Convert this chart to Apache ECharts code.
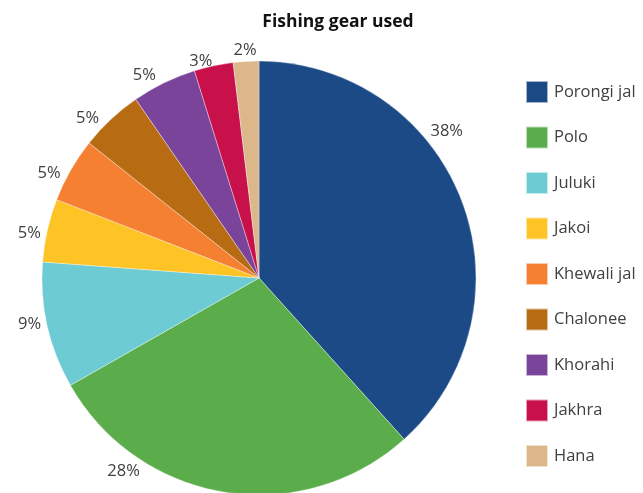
<!DOCTYPE html>
<html><head><meta charset="utf-8">
<script src="https://cdn.jsdelivr.net/npm/echarts@6/dist/echarts.min.js"></script>
<style>html,body{margin:0;padding:0;background:#fff}#c{width:643px;height:493px}</style>
</head><body><div id="c"></div>
<script>
const categories = ['Porongi jal','Polo','Juluki','Jakoi','Khewali jal','Chalonee','Khorahi','Jakhra','Hana'];
const values = [38.3, 28.4, 9.4, 4.7, 4.8, 4.7, 4.8, 2.9, 1.9];
const colors = ['#1c4a87','#5aad4a','#6ccbd3','#fec325','#f58032','#b76c14','#7a449b','#c8104a','#dbb78a'];
const title = 'Fishing gear used';

// label placement (style only): angle (deg, clockwise from top) and gap of each label
const CX = 259, CY = 278, R = 217;
const labelAngles = [52, 215, 258.5, 281, 296.5, 313, 330.5, 345, 356.5];
const labelGaps = [4.5, 4.5, 4.5, 4.5, 4.5, 4.5, 4.5, -1.5, 4.5];

const chart = echarts.init(document.getElementById('c'));
chart.setOption({
  animation: false,
  title: {text: title, left: 333, top: 8, textAlign: 'center',
    textStyle: {fontFamily: 'Open Sans', fontWeight: 'bold', fontSize: 17.5, color: '#111'}},
  legend: {
    orient: 'vertical', left: 525, top: 80, padding: 0, itemWidth: 22, itemHeight: 22, itemGap: 21.5,
    icon: 'rect',
    textStyle: {fontFamily: 'Open Sans', fontSize: 16.5, lineHeight: 22, color: '#404040', padding: [0,0,0,1]},
    data: categories
  },
  series: [{
    type: 'pie',
    center: [CX, CY],
    radius: R,
    startAngle: 90,
    clockwise: true,
    avoidLabelOverlap: false,
    data: categories.map((n,i)=>({name:n, value:values[i], itemStyle:{color:colors[i]}})),
    itemStyle: {borderColor: 'rgba(255,255,255,0.6)', borderWidth: 0.6},
    label: {show: true, position: 'outside',
      formatter: p => Math.round(p.value) + '%',
      fontFamily: 'Open Sans', fontSize: 16.5, color: '#404040'},
    labelLine: {show: false, length: 8, length2: 0},
    labelLayout: function (p) {
      const i = p.dataIndex;
      const a = labelAngles[i] * Math.PI/180;
      const w = p.labelRect.width, h = p.labelRect.height * 0.75;
      const s = Math.sin(a), c = Math.cos(a);
      const d = R + labelGaps[i] + Math.abs(s)*w/2 + Math.abs(c)*h/2;
      return {x: CX + d*s, y: CY - d*c, align: 'center', verticalAlign: 'middle'};
    }
  }]
});
</script></body></html>
